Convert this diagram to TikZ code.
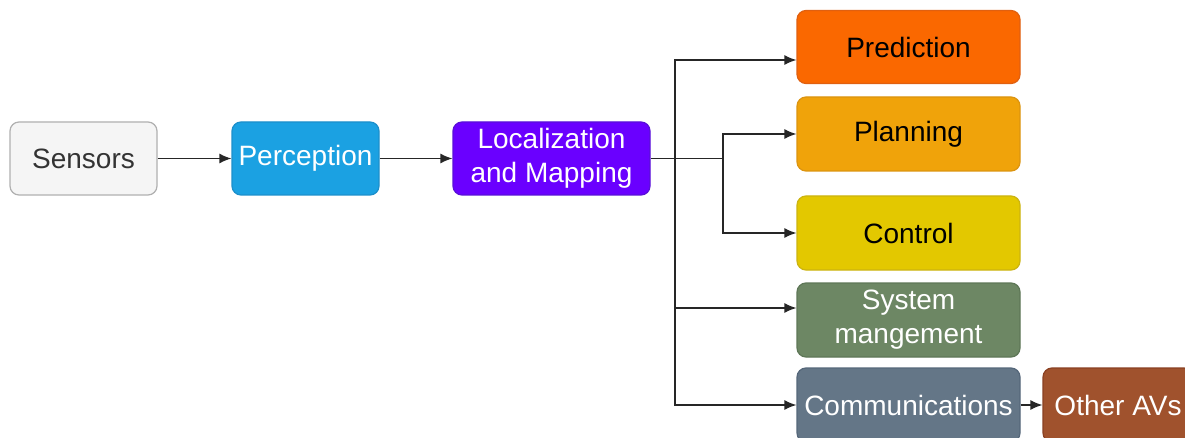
\documentclass[tikz,border=0pt]{standalone}
\usepackage{fontspec}
\setmainfont{Liberation Sans}
\usetikzlibrary{arrows.meta,calc}
\definecolor{sensF}{HTML}{F5F5F5}\definecolor{sensD}{HTML}{B0B0B0}\definecolor{sensT}{HTML}{333333}
\definecolor{percF}{HTML}{1BA1E2}\definecolor{percD}{HTML}{1C8FCB}
\definecolor{locF}{HTML}{6A00FF}\definecolor{locD}{HTML}{5A10D8}
\definecolor{predF}{HTML}{FA6800}\definecolor{predD}{HTML}{E06010}
\definecolor{planF}{HTML}{F0A30A}\definecolor{planD}{HTML}{DC9410}
\definecolor{ctrlF}{HTML}{E3C800}\definecolor{ctrlD}{HTML}{CCB410}
\definecolor{sysF}{HTML}{6D8764}\definecolor{sysD}{HTML}{5E7757}
\definecolor{comF}{HTML}{647687}\definecolor{comD}{HTML}{55677A}
\definecolor{avF}{HTML}{A0522D}\definecolor{avD}{HTML}{8A4022}
\tikzset{
  box/.style={rounded corners=9pt, line width=1.2pt, inner sep=0pt, align=center,
    font=\fontsize{28}{34}\selectfont},
  conn/.style={line width=1.4pt, draw=black!85, -{Latex[length=12pt,width=10pt]}},
  wire/.style={line width=1.4pt, draw=black!85}
}
\begin{document}
\begin{tikzpicture}[x=1pt,y=-1pt]
\clip (0,0) rectangle (1185,438);
\fill[white] (0,0) rectangle (1185,438);
\node[box, fill=sensF, draw=sensD, text=sensT, minimum width=147pt, minimum height=73pt] (sens) at (83.5,158.5) {Sensors};
\node[box, fill=percF, draw=percD, text=white, minimum width=147pt, minimum height=73pt] (perc) at (305.5,158.5) {Perception};
\node[box, fill=locF, draw=locD, text=white, minimum width=197pt, minimum height=73pt] (loc) at (551.5,158.5) {Localization\\and Mapping};
\node[box, fill=predF, draw=predD, text=black, minimum width=223pt, minimum height=73pt] (pred) at (908.5,47) {Prediction};
\node[box, fill=planF, draw=planD, text=black, minimum width=223pt, minimum height=74pt] (plan) at (908.5,134) {Planning};
\node[box, fill=ctrlF, draw=ctrlD, text=black, minimum width=223pt, minimum height=74pt] (ctrl) at (908.5,233) {Control};
\node[box, fill=sysF, draw=sysD, text=white, minimum width=223pt, minimum height=74pt] (sys) at (908.5,320) {System\\mangement};
\node[box, fill=comF, draw=comD, text=white, minimum width=223pt, minimum height=74pt] (com) at (908.5,405) {Communications};
\node[box, fill=avF, draw=avD, text=white, minimum width=150pt, minimum height=74pt] (av) at (1118,405) {Other AVs};
\coordinate (b1) at (675,158.5);
\coordinate (b2) at (723,158.5);
\draw[conn] (sens) -- (perc);
\draw[conn] (perc) -- (loc);
\draw[wire] (loc.east) -- (b2);
\draw[conn] (b1) |- ([yshift=-13pt]pred.west);
\draw[conn] (b2) |- (plan.west);
\draw[conn] (b2) |- (ctrl.west);
\draw[conn] (b1) |- ([yshift=12pt]sys.west);
\draw[conn] (b1) |- (com.west);
\draw[conn] (com) -- (av);
\end{tikzpicture}
\end{document}
